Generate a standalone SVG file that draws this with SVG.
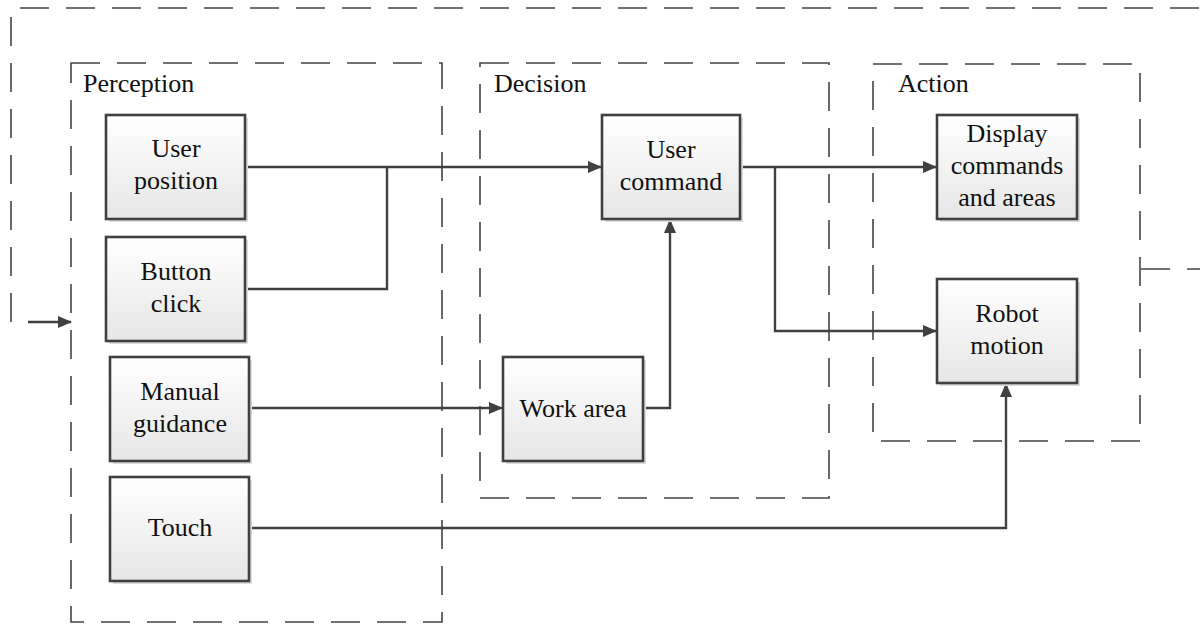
<svg xmlns="http://www.w3.org/2000/svg" width="1200" height="624" viewBox="0 0 1200 624">
  <defs>
    <linearGradient id="boxFill" x1="0" y1="0" x2="0" y2="1">
      <stop offset="0" stop-color="#ffffff"/>
      <stop offset="1" stop-color="#e6e6e6"/>
    </linearGradient>
    <marker id="arrow" markerUnits="userSpaceOnUse" markerWidth="14" markerHeight="12" refX="13" refY="6" orient="auto">
      <path d="M0,0 L14,6 L0,12 Z" fill="#404040"/>
    </marker>
  </defs>
  <style>
    .frame { fill: none; stroke: #444444; stroke-width: 1.6; stroke-dasharray: 29 17; }
    .group-label { font-family: "Liberation Serif", "Times New Roman", serif; font-size: 26px; fill: #111111; }
    .shadow { fill: #dcdcdc; }
    .box { fill: url(#boxFill); stroke: #404040; stroke-width: 2.6; }
    .label { font-family: "Liberation Serif", "Times New Roman", serif; font-size: 26px; fill: #111111; text-anchor: middle; }
    .wire { fill: none; stroke: #404040; stroke-width: 2.4; }
  </style>

  <rect width="1200" height="624" fill="#ffffff"/>

  <!-- feedback loop frame -->
  <g id="feedback">
    <line class="frame" x1="20" y1="8" x2="1200" y2="8"/>
    <line class="frame" x1="11" y1="17" x2="11" y2="323"/>
    <line class="frame" x1="1141" y1="269" x2="1200" y2="269"/>
    <line class="wire" x1="28" y1="322" x2="71" y2="322" stroke-width="1.6" marker-end="url(#arrow)"/>
  </g>

  <!-- stage frames -->
  <g id="perception">
    <rect class="frame" x="71" y="63" width="371" height="559"/>
    <text class="group-label" x="83" y="92">Perception</text>
  </g>
  <g id="decision">
    <rect class="frame" x="480" y="63" width="349" height="435"/>
    <text class="group-label" x="494" y="92">Decision</text>
  </g>
  <g id="action">
    <rect class="frame" x="873" y="64" width="267" height="377"/>
    <text class="group-label" x="898" y="92">Action</text>
  </g>

  <!-- connectors -->
  <g id="connectors">
    <path class="wire" d="M245,167 H601" marker-end="url(#arrow)"/>
    <path class="wire" d="M245,289 H387 V167"/>
    <path class="wire" d="M249,408 H502" marker-end="url(#arrow)"/>
    <path class="wire" d="M643,408 H670 V220" marker-end="url(#arrow)"/>
    <path class="wire" d="M740,167 H936" marker-end="url(#arrow)"/>
    <path class="wire" d="M775,167 V331 H936" marker-end="url(#arrow)"/>
    <path class="wire" d="M249,528 H1006 V384" marker-end="url(#arrow)"/>
  </g>

  <!-- nodes -->
  <g id="user-position">
    <rect class="shadow" x="109" y="118" width="139" height="104"/>
    <rect class="box" x="106" y="115" width="139" height="104"/>
    <text class="label" x="176" y="157">User</text>
    <text class="label" x="176" y="189">position</text>
  </g>
  <g id="button-click">
    <rect class="shadow" x="109" y="240" width="139" height="104"/>
    <rect class="box" x="106" y="237" width="139" height="104"/>
    <text class="label" x="176" y="280">Button</text>
    <text class="label" x="176" y="312">click</text>
  </g>
  <g id="manual-guidance">
    <rect class="shadow" x="113" y="360" width="139" height="104"/>
    <rect class="box" x="110" y="357" width="139" height="104"/>
    <text class="label" x="180" y="400">Manual</text>
    <text class="label" x="180" y="432">guidance</text>
  </g>
  <g id="touch">
    <rect class="shadow" x="113" y="480" width="139" height="104"/>
    <rect class="box" x="110" y="477" width="139" height="104"/>
    <text class="label" x="180" y="536">Touch</text>
  </g>
  <g id="work-area">
    <rect class="shadow" x="506" y="360" width="140" height="104"/>
    <rect class="box" x="503" y="357" width="140" height="104"/>
    <text class="label" x="573" y="417">Work area</text>
  </g>
  <g id="user-command">
    <rect class="shadow" x="605" y="118" width="138" height="104"/>
    <rect class="box" x="602" y="115" width="138" height="104"/>
    <text class="label" x="671" y="158">User</text>
    <text class="label" x="671" y="190">command</text>
  </g>
  <g id="display-commands">
    <rect class="shadow" x="940" y="118" width="140" height="104"/>
    <rect class="box" x="937" y="115" width="140" height="104"/>
    <text class="label" x="1007" y="142">Display</text>
    <text class="label" x="1007" y="174">commands</text>
    <text class="label" x="1007" y="206">and areas</text>
  </g>
  <g id="robot-motion">
    <rect class="shadow" x="940" y="282" width="140" height="104"/>
    <rect class="box" x="937" y="279" width="140" height="104"/>
    <text class="label" x="1007" y="322">Robot</text>
    <text class="label" x="1007" y="354">motion</text>
  </g>
</svg>
